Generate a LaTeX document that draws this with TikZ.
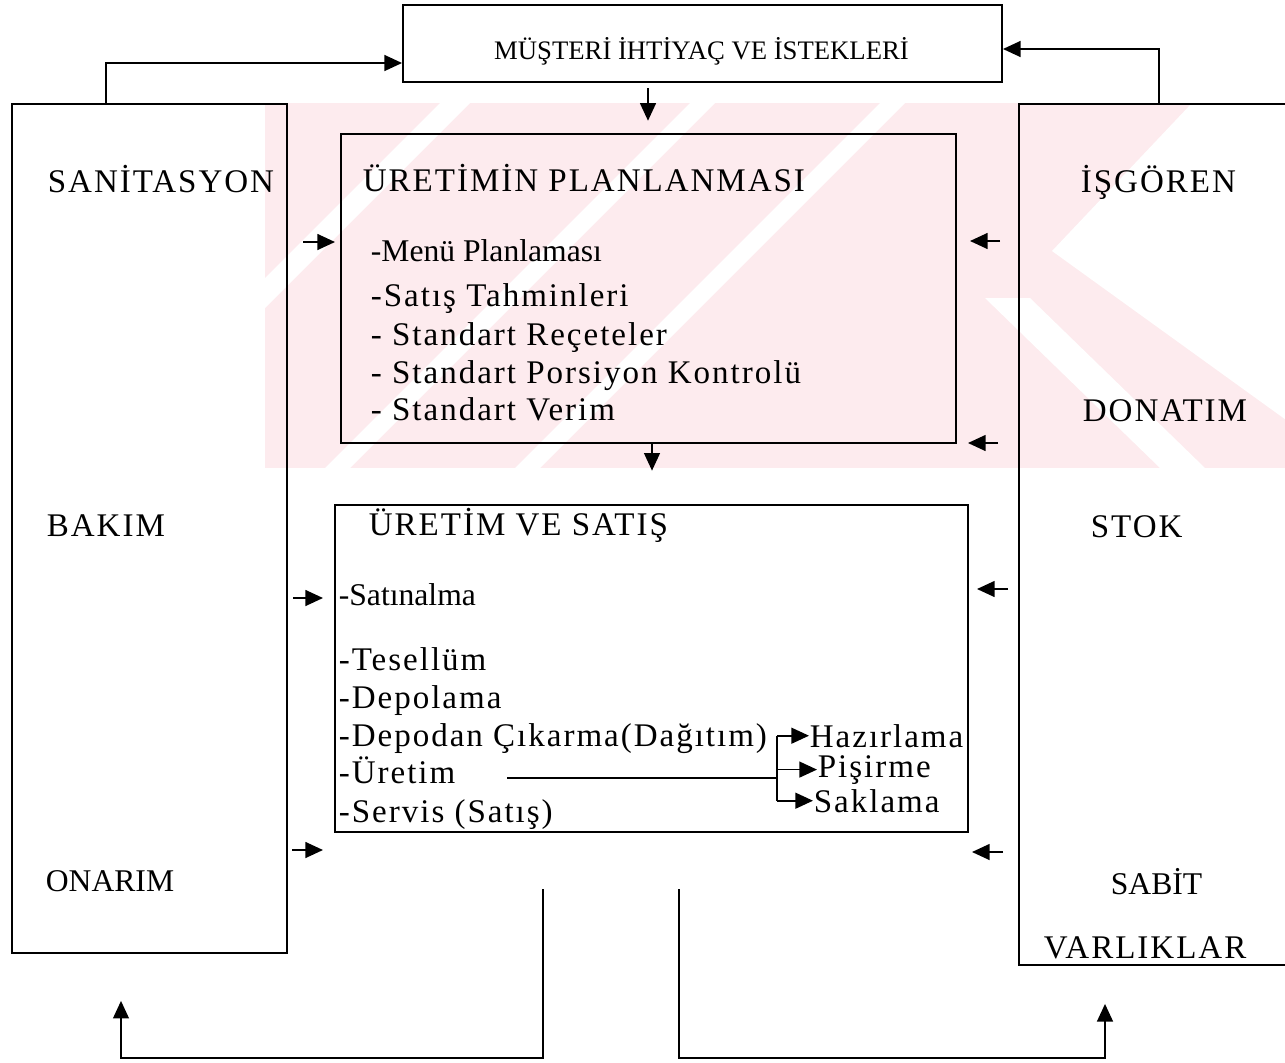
\documentclass[tikz,border=0pt]{standalone}
\usepackage{fontspec}
\setmainfont{Liberation Serif}
\newfontfamily\spacedfont[LetterSpace=6]{Liberation Serif}
\usetikzlibrary{arrows.meta,fit}

\definecolor{wmpink}{RGB}{253,235,238}

\begin{document}
\begin{tikzpicture}[
    x=0.02cm, y=-0.02cm,    % one unit = one pixel of the sketch
    >={Triangle[length=10pt,width=9pt]},
    line width=1pt,
    boxframe/.style={draw, line width=1.1pt, inner sep=0pt, fit=#1},
    widetext/.style={font=\spacedfont\fontsize{18.8}{22}\selectfont, inner sep=0pt, anchor=base west},
    plaintext/.style={font=\fontsize{18}{22}\selectfont, inner sep=0pt, anchor=base west}]

    \fill[white] (0,0) rectangle (1285,1062);
    \useasboundingbox (0,0) rectangle (1285,1062);

    % Watermark
    \begin{scope}
        \clip (265,103) rectangle (1285,468);
        \fill[wmpink] (265,103) rectangle (1285,468);
        \fill[white] (440,103) -- (470,103) -- (105,468) -- (75,468) -- cycle;
        \fill[white] (690,103) -- (715,103) -- (350,468) -- (325,468) -- cycle;
        \fill[white] (880,103) -- (905,103) -- (540,468) -- (515,468) -- cycle;
        \fill[white] (1192,103) -- (1300,103) -- (1300,430) -- (1052,251) -- cycle;
        \fill[white] (985,298) -- (1030,298) -- (1205,468) -- (1160,468) -- cycle;
    \end{scope}

    % Frames
    \coordinate (t1) at (403,5);    \coordinate (t2) at (1002,82);
    \coordinate (l1) at (12,104);   \coordinate (l2) at (287,953);
    \coordinate (r1) at (1019,104); \coordinate (r2) at (1300,965);
    \coordinate (p1) at (341,134);  \coordinate (p2) at (956,443);
    \coordinate (s1) at (335,505);  \coordinate (s2) at (968,832);
    \node[boxframe={(t1)(t2)}] (need) {};
    \node[boxframe={(l1)(l2)}] (leftcol) {};
    \node[boxframe={(r1)(r2)}] (rightcol) {};
    \node[boxframe={(p1)(p2)}] (plan) {};
    \node[boxframe={(s1)(s2)}] (prod) {};

    % Texts
    \node[font=\fontsize{15.2}{18}\selectfont, inner sep=0pt, anchor=base] (needtxt) at (701.5,59) {MÜŞTERİ İHTİYAÇ VE İSTEKLERİ};

    \node[widetext] (sanit) at (47,192) {SANİTASYON};
    \node[widetext] (bakim) at (46,536) {BAKIM};
    \node[plaintext] (onarim) at (45,891) {ONARIM};

    \node[widetext] (isgoren) at (1080,192) {İŞGÖREN};
    \node[widetext] (donatim) at (1082,421) {DONATIM};
    \node[widetext] (stok) at (1090,537) {STOK};
    \node[plaintext] (sabit) at (1110,894) {SABİT};
    \node[widetext] (varlik) at (1043,958) {VARLIKLAR};

    \node[widetext] (plantitle) at (362,191) {ÜRETİMİN PLANLANMASI};
    \node[plaintext] (menu) at (370,261) {-Menü Planlaması};
    \node[widetext] (tahmin) at (370,306) {-Satış Tahminleri};
    \node[widetext] (recete) at (370,345) {- Standart Reçeteler};
    \node[widetext] (porsiyon) at (370,383) {- Standart Porsiyon Kontrolü};
    \node[widetext] (verim) at (370,420) {- Standart Verim};

    \node[widetext] (prodtitle) at (368,535) {ÜRETİM VE SATIŞ};
    \node[plaintext] (satin) at (338,605) {-Satınalma};
    \node[widetext] (tesellum) at (338,670) {-Tesellüm};
    \node[widetext] (depola) at (338,708) {-Depolama};
    \node[widetext] (dagitim) at (338,746) {-Depodan Çıkarma(Dağıtım)};
    \node[widetext] (uretim) at (338,783) {-Üretim};
    \node[widetext] (servis) at (338,822) {-Servis (Satış)};

    \node[widetext] (hazir) at (809,747) {Hazırlama};
    \node[widetext] (pisir) at (817,777) {Pişirme};
    \node[widetext] (sakla) at (813,812) {Saklama};

    % Feedback to the customer box
    \coordinate (upl) at (106,63);
    \coordinate (upr) at (1159,49);
    \draw[->] (leftcol.north -| upl) |- (need.west |- upl);
    \draw[->] (rightcol.north -| upr) |- (need.east |- upr);

    % Main flow
    \coordinate (dn1) at (648,0);
    \coordinate (dn2) at (652,0);
    \draw[->, shorten <=3pt, shorten >=7pt] (need.south -| dn1) -- (plan.north -| dn1);
    \draw[->, shorten >=19pt] (plan.south -| dn2) -- (prod.north -| dn2);

    % Lines back to the side columns
    \coordinate (bb) at (0,1058);
    \coordinate (bl) at (543,0);  \coordinate (ul) at (121,0);
    \coordinate (br) at (679,0);  \coordinate (ur) at (1105,0);
    \draw[->, shorten <=32pt, shorten >=26.7pt] (prod.south -| bl) -- (bl |- bb) -| (leftcol.south -| ul);
    \draw[->, shorten <=32pt, shorten >=21.6pt] (prod.south -| br) -- (br |- bb) -| (rightcol.south -| ur);

    % Side arrows
    \foreach \i/\xa/\xb/\yy in {1/303/335/242, 2/293/323/598, 3/292/323/850,
        4/1000/970/241, 5/998/968/443, 6/1008/977/589, 7/1003/972/852} {
        \coordinate (from\i) at (\xa,\yy);
        \coordinate (to\i) at (\xb,\yy);
        \draw[->] (from\i) -- (to\i);
    }

    % Production branch
    \coordinate (fork) at (777,778);
    \draw[shorten <=29pt] (uretim.east |- fork) -- (fork);
    \draw (fork |- hazir.west) -- (fork |- sakla.west);
    \foreach \n in {hazir, pisir, sakla}
        \draw[->] (fork |- \n.west) -- (\n.west);
\end{tikzpicture}
\end{document}
